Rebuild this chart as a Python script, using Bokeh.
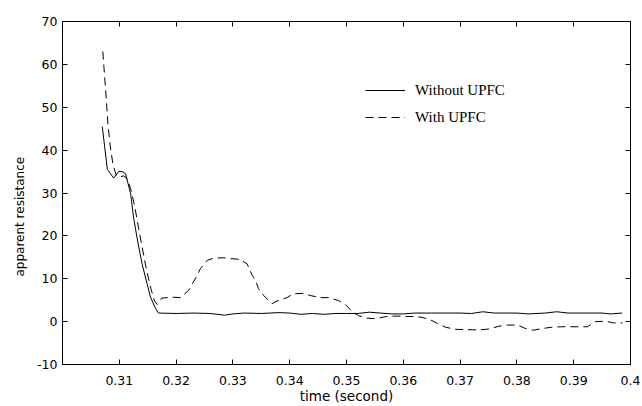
from bokeh.plotting import figure
from bokeh.models import (LinearAxis, FixedTicker, Legend, LegendItem, Title, Range1d)
from bokeh.embed import file_html
from bokeh.resources import INLINE

# ---- data ----
t_without = [0.3070, 0.3079, 0.3090, 0.3099, 0.3105, 0.3111, 0.3120, 0.3125, 0.3131,
             0.3140, 0.3149, 0.3155, 0.3164, 0.3169, 0.3200, 0.3230, 0.3260, 0.3285,
             0.3300, 0.3320, 0.3350, 0.3380, 0.3400, 0.3420, 0.3440, 0.3460, 0.3480,
             0.3500, 0.3520, 0.3540, 0.3560, 0.3580, 0.3600, 0.3620, 0.3650, 0.3680,
             0.3700, 0.3720, 0.3740, 0.3760, 0.3800, 0.3820, 0.3850, 0.3870, 0.3890,
             0.3920, 0.3950, 0.3965, 0.3985]
r_without = [45.5, 35.5, 33.5, 35.0, 35.0, 34.5, 29.8, 24.4, 19.7,
             13.5, 8.8, 5.7, 3.0, 2.0, 1.9, 2.0, 1.9, 1.5,
             1.8, 2.0, 1.9, 2.1, 2.0, 1.7, 1.9, 1.7, 1.9,
             1.9, 1.9, 2.2, 2.0, 1.8, 1.8, 2.0, 2.0, 2.0,
             2.0, 1.9, 2.3, 2.0, 2.0, 1.8, 2.0, 2.3, 2.0,
             2.0, 2.0, 1.8, 2.0]

t_with = [0.3071, 0.3074, 0.3077, 0.3080, 0.3084, 0.3089, 0.3095, 0.3102, 0.3108,
          0.3114, 0.3120, 0.3127, 0.3133, 0.3140, 0.3148, 0.3156, 0.3162, 0.3167,
          0.3175, 0.3194, 0.3208, 0.3222, 0.3229, 0.3237, 0.3243, 0.3255, 0.3266,
          0.3283, 0.3296, 0.3313, 0.3325, 0.3334, 0.3340, 0.3345, 0.3354, 0.3369,
          0.3378, 0.3395, 0.3407, 0.3425, 0.3436, 0.3454, 0.3469, 0.3486, 0.3498,
          0.3510, 0.3521, 0.3536, 0.3551, 0.3571, 0.3589, 0.3604, 0.3618, 0.3633,
          0.3648, 0.3660, 0.3674, 0.3692, 0.3722, 0.3736, 0.3753, 0.3767, 0.3783,
          0.3801, 0.3815, 0.3829, 0.3845, 0.3862, 0.3877, 0.3924, 0.3938, 0.3956,
          0.3970, 0.3986]
r_with = [63.0, 57.5, 52.0, 46.0, 41.0, 36.5, 34.0, 33.8, 34.0,
          33.3, 31.0, 27.0, 22.5, 17.5, 12.0, 7.5, 4.8, 4.0,
          5.5, 5.7, 5.6, 7.3, 8.9, 10.8, 12.4, 14.3, 14.8,
          14.9, 14.7, 14.5, 13.5, 10.8, 9.6, 7.7, 6.1, 4.2,
          4.8, 5.6, 6.5, 6.6, 6.1, 5.6, 5.6, 4.9, 4.0,
          2.3, 1.4, 0.8, 0.7, 1.2, 1.3, 1.2, 1.2, 1.0,
          0.4, -0.4, -1.3, -1.8, -1.9, -1.9, -1.7, -1.1, -0.8,
          -0.8, -1.6, -2.0, -1.6, -1.3, -1.2, -1.2, 0.0, 0.1,
          -0.3, -0.3]

x_ticks = [0.31, 0.32, 0.33, 0.34, 0.35, 0.36, 0.37, 0.38, 0.39, 0.40]
x_tick_labels = ["0.31", "0.32", "0.33", "0.34", "0.35", "0.36", "0.37", "0.38", "0.39", "0.4"]
y_ticks = [-10, 0, 10, 20, 30, 40, 50, 60, 70]
y_tick_labels = ["-10", "0", "10", "20", "30", "40", "50", "60", "70"]

series_names = ["Without UPFC", "With UPFC"]
x_label = "time (second)"
y_label = "apparent resistance"

# ---- figure ----
p = figure(width=642, height=406, output_backend="svg", toolbar_location=None,
           x_range=Range1d(0.3, 0.4), y_range=Range1d(-10, 70),
           min_border_left=62, min_border_right=12, min_border_top=21,
           min_border_bottom=42, title=None)
p.grid.visible = False
p.outline_line_color = "black"
p.outline_line_width = 1
p.background_fill_color = "white"
p.border_fill_color = "white"

TICK_FONT = "DejaVu Sans"

xa = p.xaxis[0]
xa.ticker = FixedTicker(ticks=x_ticks)
xa.major_label_overrides = {t: s for t, s in zip(x_ticks, x_tick_labels)}
xa.major_tick_in = 5
xa.major_tick_out = 0
xa.minor_tick_line_color = None
xa.axis_line_color = "black"
xa.major_tick_line_color = "black"
xa.major_label_text_font = TICK_FONT
xa.major_label_text_font_size = "12.5px"
xa.major_label_text_color = "black"
xa.major_label_standoff = 11
xa.axis_label = x_label
xa.axis_label_text_font = TICK_FONT
xa.axis_label_text_font_size = "13.5px"
xa.axis_label_text_font_style = "normal"
xa.axis_label_text_color = "black"
xa.axis_label_standoff = 0

ya = p.yaxis[0]
ya.ticker = FixedTicker(ticks=y_ticks)
ya.major_label_overrides = {t: s for t, s in zip(y_ticks, y_tick_labels)}
ya.major_tick_in = 5
ya.major_tick_out = 0
ya.minor_tick_line_color = None
ya.axis_line_color = "black"
ya.major_tick_line_color = "black"
ya.major_label_text_font = TICK_FONT
ya.major_label_text_font_size = "12.5px"
ya.major_label_text_color = "black"
ya.major_label_standoff = 5

# box axes (ticks only)
for loc, ticks in (("right", y_ticks), ("above", x_ticks)):
    ax = LinearAxis(ticker=FixedTicker(ticks=ticks), major_tick_in=5, major_tick_out=0,
                    minor_tick_line_color=None, axis_line_color="black",
                    major_tick_line_color="black", major_label_text_color=None,
                    major_label_text_font_size="0px", major_label_standoff=0,
                    major_label_overrides={t: "" for t in ticks})
    p.add_layout(ax, loc)

# y-axis title placed like the reference (slightly below centre)
p.add_layout(Title(text=y_label, align="left", offset=88, standoff=16,
                   text_font=TICK_FONT, text_font_size="12px",
                   text_font_style="normal", text_color="black"), "left")

r1 = p.line(t_without, r_without, line_color="black", line_width=1)
r2 = p.line(t_with, r_with, line_color="black", line_width=1, line_dash="8 5")

legend = Legend(items=[LegendItem(label=series_names[0], renderers=[r1]),
                       LegendItem(label=series_names[1], renderers=[r2])],
                location=(303, 237), glyph_width=40, glyph_height=20, label_height=20,
                spacing=7, padding=0, margin=0, label_standoff=10,
                label_text_font="Liberation Serif", label_text_font_size="15px",
                label_text_color="black", border_line_color=None,
                background_fill_alpha=0)
p.add_layout(legend)

open("out.html", "w").write(file_html(p, INLINE))
